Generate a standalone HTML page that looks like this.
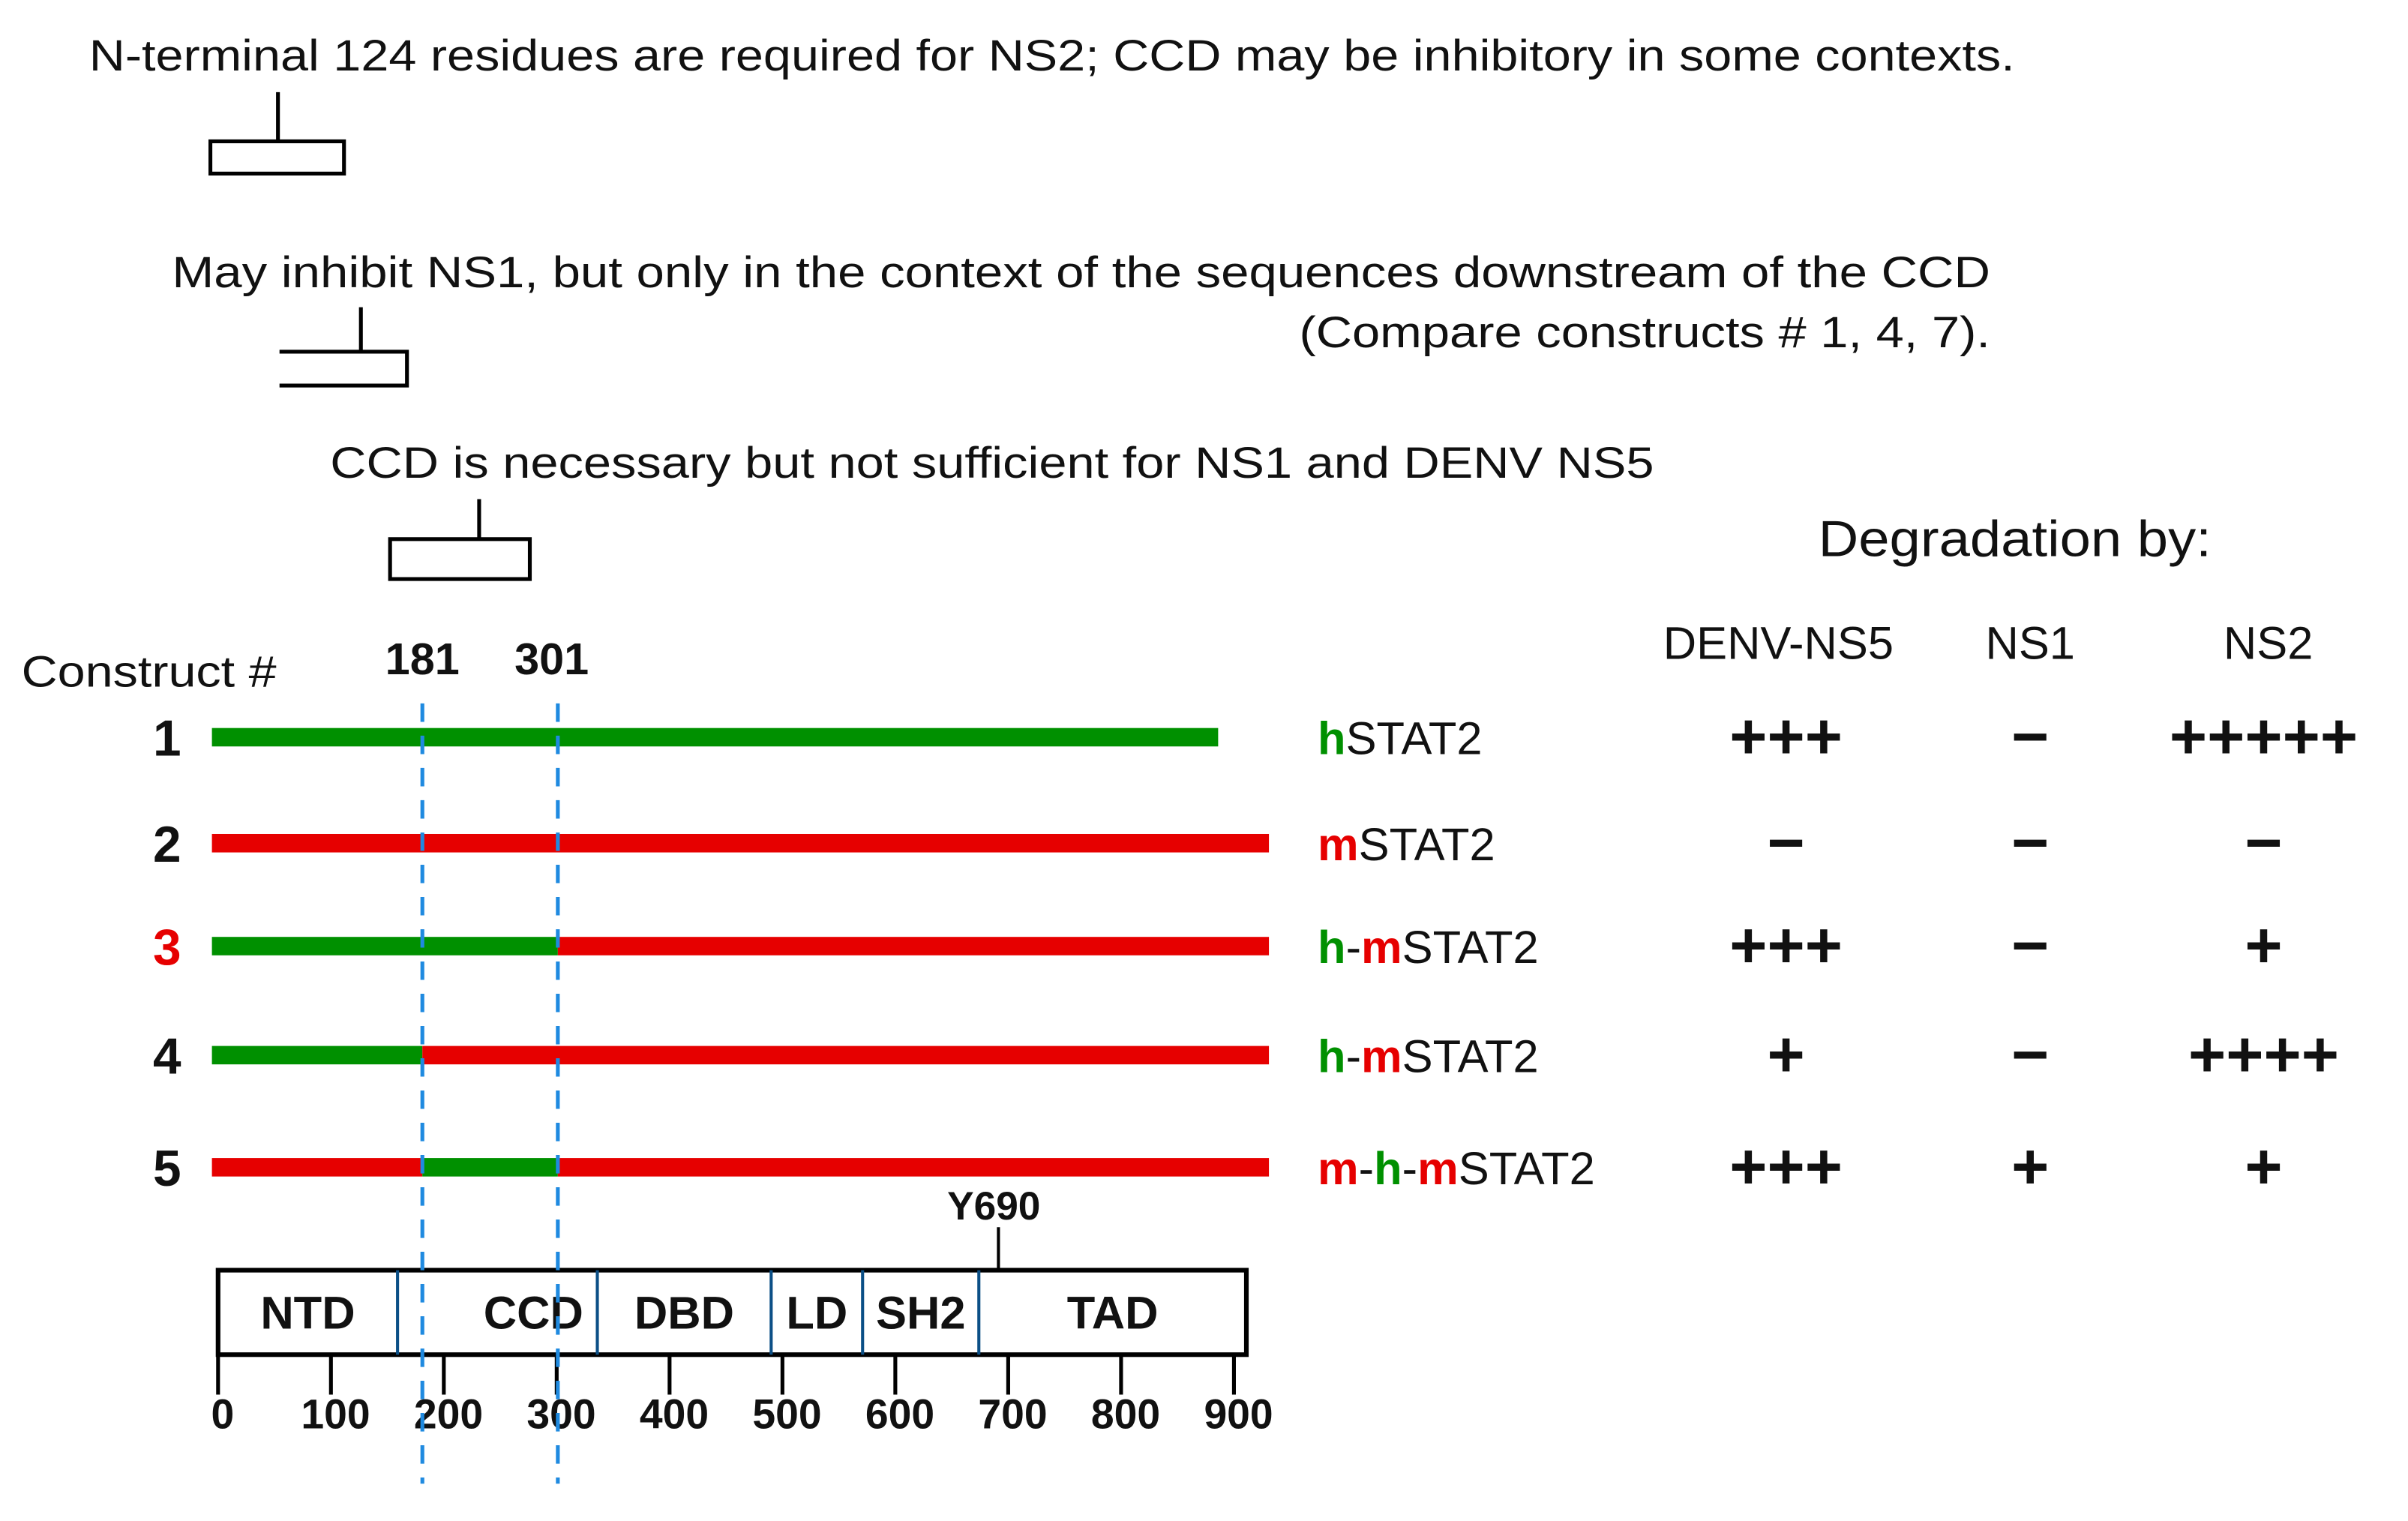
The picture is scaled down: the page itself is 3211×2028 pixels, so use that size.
<!DOCTYPE html>
<html><head><meta charset="utf-8"><style>
html,body{margin:0;padding:0;background:#fff;}
svg{display:block;}
text{font-family:"Liberation Sans",Arial,sans-serif;}
</style></head><body>
<svg id="chart" width="3211" height="2028" viewBox="0 0 1568 990.3" preserveAspectRatio="none" xmlns="http://www.w3.org/2000/svg">
<g fill="#111" font-size="28.5">
<text x="58" y="46" textLength="1254" lengthAdjust="spacingAndGlyphs">N-terminal  124 residues are required for NS2; CCD may be inhibitory in some contexts.</text>
<path d="M181 60V92M137 92H224V113H137Z" fill="none" stroke="#000" stroke-width="2.5"/>
<text x="112" y="187" textLength="1184" lengthAdjust="spacingAndGlyphs">May inhibit NS1, but only in the context of the sequences downstream of the CCD</text>
<text x="1296" y="226" text-anchor="end" textLength="450" lengthAdjust="spacingAndGlyphs">(Compare constructs # 1, 4, 7).</text>
<path d="M235 200V229M182 229H265V251H182" fill="none" stroke="#000" stroke-width="2.5"/>
<text x="215" y="311" textLength="862" lengthAdjust="spacingAndGlyphs">CCD is necessary but not sufficient for NS1 and DENV NS5</text>
<path d="M312 325V351M254 351H345V377H254Z" fill="none" stroke="#000" stroke-width="2.5"/>
<text x="1184" y="362" font-size="33" textLength="256" lengthAdjust="spacingAndGlyphs">Degradation by:</text>
<text x="14" y="447" textLength="166" lengthAdjust="spacingAndGlyphs">Construct #</text>
</g>
<g id="plot"></g>
</svg>
<script>
const constructNums=["1","2","3","4","5"];
const segStarts=[[0],[0],[0,301],[0,181],[0,181,301]];
const segEnds=[[886],[931],[301,931],[181,931],[181,301,931]];
const segSpecies=[["h"],["m"],["h","m"],["h","m"],["m","h","m"]];
const labelParts=[["h","STAT2"],["m","STAT2"],["h","-","m","STAT2"],["h","-","m","STAT2"],["m","-","h","-","m","STAT2"]];
const viruses=["DENV-NS5","NS1","NS2"];
const degradation=[["+++","−","+++++"],["−","−","−"],["+++","−","+"],["+","−","++++"],["+++","+","+"]];
const boundaries=[181,301];
const domainNames=["NTD","CCD","DBD","LD","SH2","TAD"];
const domainStarts=[0,159,336,490,571,674];
const domainEnds=[159,336,490,571,674,911];
const ticks=[0,100,200,300,400,500,600,700,800,900];
const markerPos=[690];
const markerLabel=["Y690"];

const NS="http://www.w3.org/2000/svg";
const x=v=>142+v*0.735;
const rowY=i=>[480,549,616,687,760][i];
const colX=j=>[1163,1322,1474][j];
const g=document.getElementById('plot');
function mk(tag,attrs,parent){const e=document.createElementNS(NS,tag);for(const k in attrs)e.setAttribute(k,attrs[k]);(parent||g).appendChild(e);return e;}
const col={h:"#009000",m:"#e60000"};

constructNums.forEach((n,i)=>{
  const t=mk('text',{x:118,y:rowY(i)+12,'font-size':33,'font-weight':'bold','text-anchor':'end',fill:i===2?'#e60000':'#111'});
  
  
  t.textContent=n;
  segStarts[i].forEach((s,k)=>{
    const r=mk('rect',{x:x(s)-(s===0?4:0),y:rowY(i)-6,width:x(segEnds[i][k])-x(s)+(s===0?4:0),height:12,fill:col[segSpecies[i][k]]});
    
    
  });
  const lab=mk('text',{x:858,y:rowY(i)+11,'font-size':30,fill:'#111'});
  
  
  labelParts[i].forEach(p=>{const ts=mk('tspan',{},lab);ts.textContent=p;
    if(p==='h'||p==='m'){ts.setAttribute('fill',col[p]);ts.setAttribute('font-weight','bold');}});
  degradation[i].forEach((d,j)=>{
    const dt=mk('text',{x:colX(j),y:rowY(i)+14,'font-size':42,'font-weight':'bold','text-anchor':'middle',fill:'#111'});
    
    
    dt.textContent=d;
  });
});
viruses.forEach((v,j)=>{
  const t=mk('text',{x:[1158,1322,1477][j],y:429,'font-size':30,'text-anchor':'middle',fill:'#111'});
  
  
  t.textContent=v;
});
const by=827,bh=55;
const box=mk('rect',{x:x(0),y:by,width:x(domainEnds[5])-x(0),height:bh,fill:'#fff',stroke:'#000','stroke-width':3});


domainNames.forEach((d,k)=>{
  if(k>0){const l=mk('line',{x1:x(domainStarts[k]),x2:x(domainStarts[k]),y1:by,y2:by+bh,stroke:'#0b4f86','stroke-width':2});
    
    }
  const cx=d==='CCD'?x(domainStarts[k])+0.68*(x(domainEnds[k])-x(domainStarts[k])):(x(domainStarts[k])+x(domainEnds[k]))/2;
  const t=mk('text',{x:cx,y:by+38,'font-size':30,'font-weight':'bold','text-anchor':'middle',fill:'#111'});
  
  
  t.textContent=d;
});
markerPos.forEach((m,k)=>{
  const l=mk('line',{x1:x(m)+1,x2:x(m)+1,y1:799,y2:by,stroke:'#000','stroke-width':2});
  
  
  const t=mk('text',{x:x(m)-2,y:794,'font-size':26,'font-weight':'bold','text-anchor':'middle',fill:'#111'});
  
  
  t.textContent=markerLabel[k];
});
ticks.forEach(v=>{
  const l=mk('line',{x1:x(v),x2:x(v),y1:by+bh,y2:by+bh+26,stroke:'#000','stroke-width':2.5});
  
  
  const t=mk('text',{x:x(v)+3,y:930,'font-size':27,'font-weight':'bold','text-anchor':'middle',fill:'#111'});
  
  
  t.textContent=v;
});
boundaries.forEach(b=>{
  const l=mk('line',{x1:x(b),x2:x(b),y1:458,y2:966,stroke:'#1f8ae0','stroke-width':2.5,'stroke-dasharray':'12 9'});
  
  
  const t=mk('text',{x:x(b)+(b===181?0:-4),y:439,'font-size':29,'font-weight':'bold','text-anchor':'middle',fill:'#111'});
  
  
  t.textContent=b;
});
</script>
</body></html>
